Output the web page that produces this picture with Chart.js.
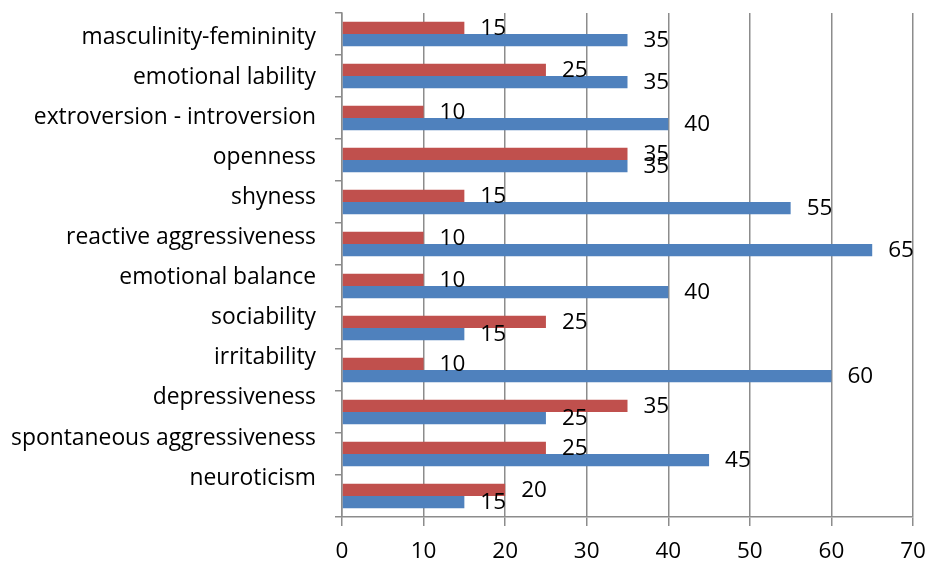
<!DOCTYPE html>
<html>
<head>
<meta charset="utf-8">
<script src="https://cdn.jsdelivr.net/npm/chart.js@4.4.1/dist/chart.umd.min.js"></script>
<style>
    html, body { margin: 0; padding: 0; background: #fff; }
    #wrap { width: 929px; height: 563px; }
</style>
</head>
<body>
<div id="wrap"><canvas id="traitChart" width="929" height="563"></canvas></div>
<script>
// Categories, top to bottom
const categories = [
    'masculinity-femininity',
    'emotional lability',
    'extroversion - introversion',
    'openness',
    'shyness',
    'reactive aggressiveness',
    'emotional balance',
    'sociability',
    'irritability',
    'depressiveness',
    'spontaneous aggressiveness',
    'neuroticism'
];

// Series values
const redValues = [15, 25, 10, 35, 15, 10, 10, 25, 10, 35, 25, 20];
const blueValues = [35, 35, 40, 35, 55, 65, 40, 15, 60, 25, 45, 15];

// X axis ticks
const xTicks = [0, 10, 20, 30, 40, 50, 60, 70];

const FONT = "'Open Sans', sans-serif";

// Draws the value next to each bar end
const valueLabels = {
    id: 'valueLabels',
    afterDatasetsDraw(chart) {
        const ctx = chart.ctx;
        ctx.save();
        ctx.font = `22.5px ${FONT}`;
        ctx.fillStyle = '#000';
        ctx.textAlign = 'left';
        ctx.textBaseline = 'middle';
        chart.data.datasets.forEach((ds, i) => {
            chart.getDatasetMeta(i).data.forEach((bar, j) => {
                ctx.fillText(String(ds.data[j]), bar.x + 16, bar.y + 1);
            });
        });
        ctx.restore();
    }
};

const ctx = document.getElementById('traitChart').getContext('2d');
new Chart(ctx, {
    type: 'bar',
    data: {
        labels: categories,
        datasets: [
            {
                data: redValues,
                backgroundColor: '#C0504D',
                categoryPercentage: 0.58,
                barPercentage: 1.0
            },
            {
                data: blueValues,
                backgroundColor: '#4F81BD',
                categoryPercentage: 0.58,
                barPercentage: 1.0
            }
        ]
    },
    options: {
        indexAxis: 'y',
        responsive: false,
        animation: false,
        layout: { padding: { top: 13, right: 0, bottom: 0, left: 0 } },
        plugins: {
            legend: { display: false },
            tooltip: { enabled: false }
        },
        scales: {
            x: {
                type: 'linear',
                min: 0,
                max: 70,
                afterBuildTicks: (scale) => {
                    scale.ticks = xTicks.map(v => ({ value: v }));
                },
                grid: {
                    color: '#8c8c8c',
                    lineWidth: 1.5,
                    tickLength: 9
                },
                border: { color: '#8c8c8c', width: 1.5 },
                ticks: {
                    font: { family: FONT, size: 22.5 },
                    color: '#000',
                    padding: 12
                },
                afterFit: (scale) => {
                    scale.height = 46;
                    scale.paddingRight = 16;
                }
            },
            y: {
                grid: {
                    drawOnChartArea: false,
                    color: '#8c8c8c',
                    lineWidth: 1.5,
                    tickLength: 7
                },
                border: { color: '#8c8c8c', width: 1.5 },
                ticks: { display: false },
                afterFit: (scale) => { scale.width = 8; }
            },
            // label axis: same labels, placed where the reference prints them
            yLabels: {
                type: 'linear',
                position: 'left',
                reverse: true,
                offset: false,
                min: -0.6,
                max: 11.97,
                afterBuildTicks: (scale) => {
                    scale.ticks = categories.map((c, i) => ({ value: i }));
                },
                grid: { display: false, drawTicks: false },
                border: { display: false },
                ticks: {
                    font: { family: FONT, size: 22.85 },
                    color: '#000',
                    padding: 18,
                    callback: (v) => categories[v]
                },
                afterFit: (scale) => {
                    scale.width = 334;
                    scale.paddingTop = 0;
                    scale.paddingBottom = 0;
                }
            }
        }
    },
    plugins: [valueLabels]
});
</script>
</body>
</html>
